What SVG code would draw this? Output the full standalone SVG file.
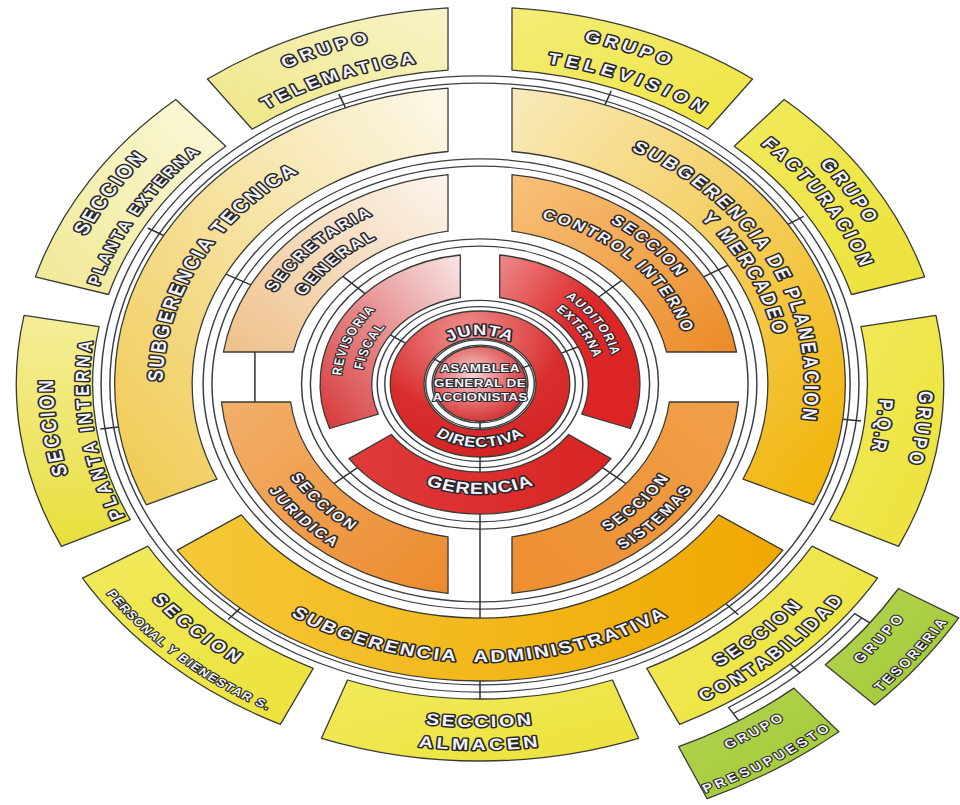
<svg xmlns="http://www.w3.org/2000/svg" width="960" height="805" viewBox="0 0 960 805">
<style>
  .n{stroke:#3a3a34;stroke-width:1.3;vector-effect:non-scaling-stroke;stroke-linejoin:round}
  .po{fill:none;stroke:#3c3f48}
  .pi{fill:none;stroke:#ffffff}
  .tk{stroke:#2e3038;stroke-width:1.5;vector-effect:non-scaling-stroke;fill:none}
  text{font-family:"Liberation Sans",Arial,sans-serif;font-weight:bold;fill:#f3f3fa;stroke:#26262c;stroke-width:2.9;paint-order:stroke fill;stroke-linejoin:round;text-anchor:middle}
  .s{stroke-width:2.1}
</style>
<defs>
  <radialGradient id="gDisk" cx="0.42" cy="0.38" r="0.7"><stop offset="0" stop-color="#f6d6d6"/><stop offset="0.55" stop-color="#e46a6a"/><stop offset="1" stop-color="#d02626"/></radialGradient>
  <radialGradient id="gJunta" cx="0.42" cy="0.15" r="0.9"><stop offset="0" stop-color="#ee9090"/><stop offset="0.6" stop-color="#d92e2e"/><stop offset="1" stop-color="#d42222"/></radialGradient>
  <linearGradient id="gRev" x1="1" y1="0" x2="0" y2="1"><stop offset="0" stop-color="#f8e6e6"/><stop offset="1" stop-color="#d63636"/></linearGradient>
  <linearGradient id="gAud" x1="0" y1="0" x2="0.8" y2="0.7"><stop offset="0" stop-color="#ee8a8a"/><stop offset="0.6" stop-color="#dd2a2a"/><stop offset="1" stop-color="#dc2424"/></linearGradient>
  <linearGradient id="gGer" x1="0" y1="0" x2="1" y2="0"><stop offset="0" stop-color="#e03a3a"/><stop offset="1" stop-color="#d82424"/></linearGradient>
  <linearGradient id="gSec" x1="1" y1="0" x2="0" y2="1"><stop offset="0" stop-color="#fcf5ec"/><stop offset="1" stop-color="#eec089"/></linearGradient>
  <linearGradient id="gCtl" x1="0" y1="0" x2="1" y2="1"><stop offset="0" stop-color="#f8c27a"/><stop offset="1" stop-color="#ec8a28"/></linearGradient>
  <linearGradient id="gJur" x1="0" y1="0" x2="1" y2="1"><stop offset="0" stop-color="#f2b06a"/><stop offset="1" stop-color="#ec8a2c"/></linearGradient>
  <linearGradient id="gSis" x1="0" y1="1" x2="1" y2="0"><stop offset="0" stop-color="#ee8e30"/><stop offset="1" stop-color="#f0a048"/></linearGradient>
  <linearGradient id="gTec" x1="1" y1="0" x2="0" y2="1"><stop offset="0" stop-color="#fcf8ea"/><stop offset="1" stop-color="#f0c94e"/></linearGradient>
  <linearGradient id="gPla" x1="0" y1="0" x2="1" y2="1"><stop offset="0" stop-color="#f8eabc"/><stop offset="1" stop-color="#f1b200"/></linearGradient>
  <linearGradient id="gAdm" x1="0" y1="0" x2="1" y2="0"><stop offset="0" stop-color="#f5c838"/><stop offset="1" stop-color="#f0a800"/></linearGradient>
  <linearGradient id="gPext" x1="1" y1="0" x2="0" y2="1"><stop offset="0" stop-color="#fbf9dc"/><stop offset="1" stop-color="#f0e894"/></linearGradient>
  <linearGradient id="gTmt" x1="1" y1="0" x2="0" y2="1"><stop offset="0" stop-color="#f8f4c8"/><stop offset="1" stop-color="#eee684"/></linearGradient>
  <linearGradient id="gTv" x1="0" y1="0" x2="1" y2="1"><stop offset="0" stop-color="#f4ec78"/><stop offset="1" stop-color="#efe540"/></linearGradient>
  <linearGradient id="gYel" x1="0" y1="0" x2="1" y2="1"><stop offset="0" stop-color="#f1ea5c"/><stop offset="1" stop-color="#ece23a"/></linearGradient>
  <linearGradient id="gPint" x1="0" y1="0" x2="0" y2="1"><stop offset="0" stop-color="#f4ee9a"/><stop offset="1" stop-color="#e8df3c"/></linearGradient>
  <linearGradient id="gGrn" x1="0" y1="0" x2="1" y2="1"><stop offset="0" stop-color="#b2d452"/><stop offset="1" stop-color="#a2c834"/></linearGradient>

  <!-- text baselines: t = top-centred (clockwise), b = bottom-centred (counter-clockwise) -->
  <path id="t49" d="M-48.81 -4.27A49 49 0 0 1 48.81 -4.27"/>
  <path id="t96" d="M-95.64 -8.37A96 96 0 0 1 95.64 -8.37"/>
  <path id="t111" d="M-110.58 -9.68A111 111 0 0 1 110.58 -9.68"/>
  <path id="t113" d="M-112.57 -9.85A113 113 0 0 1 112.57 -9.85"/>
  <path id="t168" d="M-167.36 -14.65A168 168 0 0 1 167.36 -14.65"/>
  <path id="t173" d="M-172.34 -15.09A173 173 0 0 1 172.34 -15.09"/>
  <path id="t190" d="M-189.28 -16.57A190 190 0 0 1 189.28 -16.57"/>
  <path id="t193" d="M-192.27 -16.83A193 193 0 0 1 192.27 -16.83"/>
  <path id="t244" d="M-243.07 -21.28A244 244 0 0 1 243.07 -21.28"/>
  <path id="t258" d="M-257.02 -22.5A258 258 0 0 1 257.02 -22.5"/>
  <path id="t264" d="M-263 -23.02A264 264 0 0 1 263 -23.02"/>
  <path id="t318" d="M-316.79 -27.73A318 318 0 0 1 316.79 -27.73"/>
  <path id="t325" d="M-323.77 -28.34A325 325 0 0 1 323.77 -28.34"/>
  <path id="t331" d="M-329.74 -28.86A331 331 0 0 1 329.74 -28.86"/>
  <path id="t347" d="M-345.68 -30.26A347 347 0 0 1 345.68 -30.26"/>
  <path id="t353" d="M-351.66 -30.78A353 353 0 0 1 351.66 -30.78"/>
  <path id="t357" d="M-355.64 -31.13A357 357 0 0 1 355.64 -31.13"/>
  <path id="b63" d="M-62.76 5.49A63 63 0 0 0 62.76 5.49"/>
  <path id="b110" d="M-109.58 9.59A110 110 0 0 0 109.58 9.59"/>
  <path id="b180" d="M-179.32 15.7A180 180 0 0 0 179.32 15.7"/>
  <path id="b202" d="M-201.23 17.61A202 202 0 0 0 201.23 17.61"/>
  <path id="b278" d="M-276.94 24.24A278 278 0 0 0 276.94 24.24"/>
  <path id="b343" d="M-341.7 29.91A343 343 0 0 0 341.7 29.91"/>
  <path id="b366" d="M-364.61 31.92A366 366 0 0 0 364.61 31.92"/>
  <path id="b369" d="M-367.6 32.18A369 369 0 0 0 367.6 32.18"/>
  <path id="b417" d="M-415.42 36.36A417 417 0 0 0 415.42 36.36"/>
  <path id="b448" d="M-446.3 39.07A448 448 0 0 0 446.3 39.07"/>
</defs>

<rect width="960" height="805" fill="#ffffff"/>

<!-- whole chart drawn on a circle, stretched horizontally -->
<g transform="translate(480 384) scale(1.23 1)">

  <g id="connectors">
    <!-- ring channels: dark edge under a white core -->
    <circle class="po" r="41.5" stroke-width="6.4"/><circle class="pi" r="41.5" stroke-width="4"/>
    <circle class="po" r="80.5" stroke-width="7.4"/><circle class="pi" r="80.5" stroke-width="5"/>
    <circle class="po" r="141.5" stroke-width="8.4"/><circle class="pi" r="141.5" stroke-width="6"/>
    <circle class="po" r="221.5" stroke-width="8.4"/><circle class="pi" r="221.5" stroke-width="6"/>
    <circle class="po" r="304.5" stroke-width="8.4"/><circle class="pi" r="304.5" stroke-width="6"/>
    <path class="po" d="M307.5 231.7A385 385 0 0 1 204 326.5" stroke-width="8.4"/>
    <path class="pi" d="M307.5 231.7A385 385 0 0 1 204 326.5" stroke-width="6"/>

    <!-- ticks into the channels -->
    <path class="tk" d="M-30.7 -20.7L-38.1 -25.7M33.5 -15.6L41.7 -19.4M0 37L0 46"/>
    <path class="tk" d="M-60.5 -40.8L-73 -49.2M66.2 -30.9L79.8 -37.2M0 73L0 88"/>
    <path class="tk" d="M-93.5 -90.3L-111.5 -107.7M96.6 -87L115.2 -103.7M99.6 83.6L118.7 99.6M-99.6 83.6L-118.7 99.6"/>
    <path class="tk" d="M0 128L0 234"/>
    <path class="tk" d="M-186.3 -99.1L-206.6 -109.9M181.8 -107.1L201.6 -118.8"/>
    <path class="tk" d="M-183 -32L-183 18"/>
    <path class="tk" d="M-257.2 -148.5L-270.2 -156M-109.3 -276.2L-114.8 -290.1M101.6 -279.1L106.7 -293.2M250.5 -159.6L263.1 -167.6M294.9 35.2L309.8 36.9M199.9 219.7L210 230.8M0 297L0 315M-194.9 224.1L-204.7 235.5M-293.9 42.9L-308.7 45.1"/>
    <path class="tk" d="M252.3 280.2L260.3 289.1M201.9 323.1L210.4 336.7M304.3 229.3L317 238.9"/>
  </g>

  <!-- core -->
  <g id="asamblea">
    <circle class="n" r="37.5" fill="url(#gDisk)"/>
    <text class="s" y="-12" font-size="11" letter-spacing="0.3">ASAMBLEA</text>
    <text class="s" y="3" font-size="11" letter-spacing="0.3">GENERAL DE</text>
    <text class="s" y="17" font-size="11" letter-spacing="0.2">ACCIONISTAS</text>
  </g>
  <g id="junta-directiva">
    <path class="n" fill="url(#gJunta)" fill-rule="evenodd" d="M73 0A73 73 0 1 1 -73 0A73 73 0 1 1 73 0ZM45.5 0A45.5 45.5 0 1 0 -45.5 0A45.5 45.5 0 1 0 45.5 0Z"/>
    <text font-size="15" letter-spacing="0.8"><textPath href="#t49" startOffset="50%">JUNTA</textPath></text>
    <text font-size="14" letter-spacing="0.3"><textPath href="#b63" startOffset="50%">DIRECTIVA</textPath></text>
  </g>

  <!-- first ring -->
  <g id="revisoria-fiscal">
    <path class="n" fill="url(#gRev)" d="M-122.2 44.5A130 130 0 0 1 -16 -129L-16 -86.5A88 88 0 0 0 -82.7 30.1Z"/>
    <text class="s" font-size="11" letter-spacing="1.5" transform="rotate(293)"><textPath href="#t113" startOffset="50%">REVISORIA</textPath></text>
    <text class="s" font-size="11" letter-spacing="1.5" transform="rotate(293)"><textPath href="#t96" startOffset="50%">FISCAL</textPath></text>
  </g>
  <g id="auditoria-externa">
    <path class="n" fill="url(#gAud)" d="M16 -129A130 130 0 0 1 122.2 44.5L82.7 30.1A88 88 0 0 0 16 -86.5Z"/>
    <text class="s" font-size="11" letter-spacing="1.2" transform="rotate(57)"><textPath href="#t111" startOffset="50%">AUDITORIA</textPath></text>
    <text class="s" font-size="11" letter-spacing="0.8" transform="rotate(57)"><textPath href="#t96" startOffset="50%">EXTERNA</textPath></text>
  </g>
  <g id="gerencia">
    <path class="n" fill="url(#gGer)" d="M106.5 74.6A130 130 0 0 1 -106.5 74.6L-72.1 50.5A88 88 0 0 0 72.1 50.5Z"/>
    <text font-size="16" letter-spacing="0.8"><textPath href="#b110" startOffset="50%">GERENCIA</textPath></text>
  </g>

  <!-- second ring -->
  <g id="secretaria-general">
    <path class="n" fill="url(#gSec)" d="M-208.6 -32A211 211 0 0 1 -26 -209.4L-26 -152.8A155 155 0 0 0 -151.7 -32Z"/>
    <text font-size="14" letter-spacing="2.4" transform="rotate(316)"><textPath href="#t190" startOffset="50%">SECRETARIA</textPath></text>
    <text font-size="14" letter-spacing="2.4" transform="rotate(316)"><textPath href="#t168" startOffset="50%">GENERAL</textPath></text>
  </g>
  <g id="seccion-control-interno">
    <path class="n" fill="url(#gCtl)" d="M26 -209.4A211 211 0 0 1 208.6 -32L151.7 -32A155 155 0 0 0 26 -152.8Z"/>
    <text font-size="14" letter-spacing="2.3" transform="rotate(45)"><textPath href="#t193" startOffset="50%">SECCION</textPath></text>
    <text font-size="14" letter-spacing="2.3" transform="rotate(45)"><textPath href="#t173" startOffset="50%">CONTROL INTERNO</textPath></text>
  </g>
  <g id="seccion-sistemas">
    <path class="n" fill="url(#gSis)" d="M210.2 18A211 211 0 0 1 26 209.4L26 152.8A155 155 0 0 0 153.95 18Z"/>
    <text font-size="13.5" letter-spacing="2" transform="rotate(-47)"><textPath href="#b180" startOffset="50%">SECCION</textPath></text>
    <text font-size="13.5" letter-spacing="2" transform="rotate(-47)"><textPath href="#b202" startOffset="50%">SISTEMAS</textPath></text>
  </g>
  <g id="seccion-juridica">
    <path class="n" fill="url(#gJur)" d="M-26 209.4A211 211 0 0 1 -210.2 18L-153.95 18A155 155 0 0 0 -26 152.8Z"/>
    <text font-size="13.5" letter-spacing="2" transform="rotate(47)"><textPath href="#b180" startOffset="50%">SECCION</textPath></text>
    <text font-size="13.5" letter-spacing="2" transform="rotate(47)"><textPath href="#b202" startOffset="50%">JURIDICA</textPath></text>
  </g>

  <!-- subgerencias -->
  <g id="subgerencia-tecnica">
    <path class="n" fill="url(#gTec)" d="M-271.3 120.8A297 297 0 0 1 -26 -295.9L-26 -232.5A234 234 0 0 0 -213.8 95.2Z"/>
    <text font-size="17" letter-spacing="2.2" transform="rotate(298)"><textPath href="#t258" startOffset="50%">SUBGERENCIA TECNICA</textPath></text>
  </g>
  <g id="subgerencia-planeacion">
    <path class="n" fill="url(#gPla)" d="M26 -295.9A297 297 0 0 1 271.3 120.8L213.8 95.2A234 234 0 0 0 26 -232.5Z"/>
    <text font-size="16.5" letter-spacing="2.5" transform="rotate(63)"><textPath href="#t264" startOffset="50%">SUBGERENCIA DE PLANEACION</textPath></text>
    <text font-size="16.5" letter-spacing="2.3" transform="rotate(63)"><textPath href="#t244" startOffset="50%">Y MERCADEO</textPath></text>
  </g>
  <g id="subgerencia-administrativa">
    <path class="n" fill="url(#gAdm)" d="M246.2 166.1A297 297 0 0 1 -246.2 166.1L-194 130.9A234 234 0 0 0 194 130.9Z"/>
    <text font-size="16.5" letter-spacing="2.1"><textPath href="#b278" startOffset="50%">SUBGERENCIA &#160;ADMINISTRATIVA</textPath></text>
  </g>

  <!-- outer units -->
  <g id="seccion-planta-externa">
    <path class="n" fill="url(#gPext)" d="M-361.5 -107.1A377 377 0 0 1 -247.3 -284.5L-206.7 -237.7A315 315 0 0 0 -302 -89.5Z"/>
    <text font-size="17" letter-spacing="2.5" transform="rotate(302.5)"><textPath href="#t353" startOffset="50%">SECCION</textPath></text>
    <text font-size="14" letter-spacing="2.5" transform="rotate(301.7)"><textPath href="#t325" startOffset="50%">PLANTA EXTERNA</textPath></text>
  </g>
  <g id="grupo-telematica">
    <path class="n" fill="url(#gTmt)" d="M-221.6 -305A377 377 0 0 1 -26 -376.1L-26 -313.9A315 315 0 0 0 -185.2 -254.8Z"/>
    <text font-size="16" letter-spacing="3.5" transform="rotate(339.5)"><textPath href="#t353" startOffset="50%">GRUPO</textPath></text>
    <text font-size="16" letter-spacing="3.2" transform="rotate(339.5)"><textPath href="#t325" startOffset="50%">TELEMATICA</textPath></text>
  </g>
  <g id="grupo-television">
    <path class="n" fill="url(#gTv)" d="M26 -376.1A377 377 0 0 1 221.6 -305L185.2 -254.8A315 315 0 0 0 26 -313.9Z"/>
    <text font-size="16" letter-spacing="3.5" transform="rotate(20)"><textPath href="#t353" startOffset="50%">GRUPO</textPath></text>
    <text font-size="16" letter-spacing="4.5" transform="rotate(22)"><textPath href="#t325" startOffset="50%">TELEVISION</textPath></text>
  </g>
  <g id="grupo-facturacion">
    <path class="n" fill="url(#gYel)" d="M247.3 -284.5A377 377 0 0 1 361.5 -107.1L302 -89.5A315 315 0 0 0 206.7 -237.7Z"/>
    <text font-size="16" letter-spacing="3" transform="rotate(57.4)"><textPath href="#t353" startOffset="50%">GRUPO</textPath></text>
    <text font-size="16" letter-spacing="3.2" transform="rotate(56.7)"><textPath href="#t331" startOffset="50%">FACTURACION</textPath></text>
  </g>
  <g id="grupo-pqr">
    <path class="n" fill="url(#gYel)" d="M370.7 -68.7A377 377 0 0 1 340.3 162.3L284.3 135.6A315 315 0 0 0 309.7 -57.4Z"/>
    <text font-size="16" letter-spacing="3.5" transform="rotate(97.2)"><textPath href="#t357" startOffset="50%">GRUPO</textPath></text>
    <text font-size="16" letter-spacing="2.5" transform="rotate(97.4)"><textPath href="#t325" startOffset="50%">P.Q.R</textPath></text>
  </g>
  <g id="seccion-contabilidad">
    <path class="n" fill="url(#gYel)" d="M323.2 194.2A377 377 0 0 1 162.3 340.3L135.6 284.3A315 315 0 0 0 270 162.2Z"/>
    <text font-size="16" letter-spacing="3" transform="rotate(-42.3)"><textPath href="#b343" startOffset="50%">SECCION</textPath></text>
    <text font-size="16" letter-spacing="3" transform="rotate(-42)"><textPath href="#b366" startOffset="50%">CONTABILIDAD</textPath></text>
  </g>
  <g id="seccion-almacen">
    <path class="n" fill="url(#gYel)" d="M128.9 354.3A377 377 0 0 1 -128.9 354.3L-107.7 296A315 315 0 0 0 107.7 296Z"/>
    <text font-size="16" letter-spacing="2.3"><textPath href="#b343" startOffset="50%">SECCION</textPath></text>
    <text font-size="16" letter-spacing="3"><textPath href="#b366" startOffset="50%">ALMACEN</textPath></text>
  </g>
  <g id="seccion-personal">
    <path class="n" fill="url(#gYel)" d="M-162.3 340.3A377 377 0 0 1 -323.2 194.2L-270 162.2A315 315 0 0 0 -135.6 284.3Z"/>
    <text font-size="16" letter-spacing="3.5" transform="rotate(43)"><textPath href="#b343" startOffset="50%">SECCION</textPath></text>
    <text class="s" font-size="11" letter-spacing="1.2" transform="rotate(41.6)"><textPath href="#b369" startOffset="50%">PERSONAL Y BIENESTAR S.</textPath></text>
  </g>
  <g id="seccion-planta-interna">
    <path class="n" fill="url(#gPint)" d="M-340.3 162.3A377 377 0 0 1 -370.7 -68.7L-309.7 -57.4A315 315 0 0 0 -284.3 135.6Z"/>
    <text font-size="17" letter-spacing="3" transform="rotate(263)"><textPath href="#t347" startOffset="50%">SECCION</textPath></text>
    <text font-size="15.5" letter-spacing="3.5" transform="rotate(261.8)"><textPath href="#t318" startOffset="50%">PLANTA INTERNA</textPath></text>
  </g>

  <!-- groups under contabilidad -->
  <g id="grupo-tesoreria">
    <path class="n" fill="url(#gGrn)" d="M389.2 233.8A454 454 0 0 1 321 321L280.7 280.7A397 397 0 0 0 340.3 204.5Z"/>
    <text class="s" font-size="12.5" letter-spacing="3" transform="rotate(-52)"><textPath href="#b417" startOffset="50%">GRUPO</textPath></text>
    <text class="s" font-size="12" letter-spacing="2.3" transform="rotate(-52.4)"><textPath href="#b448" startOffset="50%">TESORERIA</textPath></text>
  </g>
  <g id="grupo-presupuesto">
    <path class="n" fill="url(#gGrn)" d="M291.8 347.8A454 454 0 0 1 184.7 414.7L161.5 362.7A397 397 0 0 0 255.2 304.1Z"/>
    <text class="s" font-size="12" letter-spacing="2.7" transform="rotate(-32.8)"><textPath href="#b417" startOffset="50%">GRUPO</textPath></text>
    <text class="s" font-size="12" letter-spacing="3" transform="rotate(-32)"><textPath href="#b448" startOffset="50%">PRESUPUESTO</textPath></text>
  </g>
</g>
</svg>
